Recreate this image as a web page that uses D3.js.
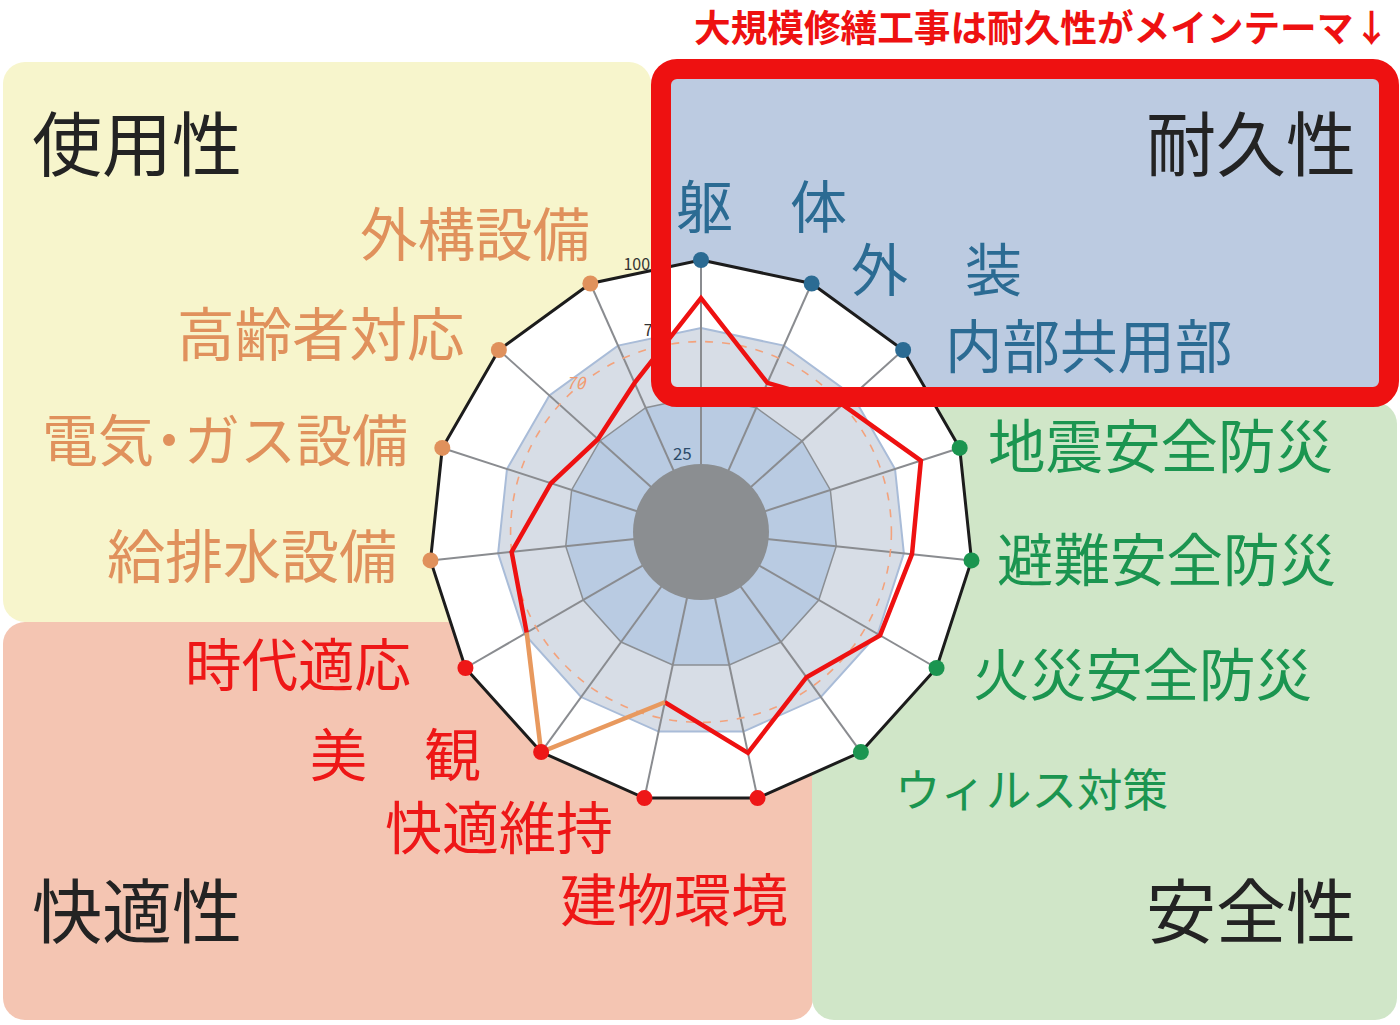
<!DOCTYPE html>
<html>
<head>
<meta charset="utf-8">
<script src="https://cdn.jsdelivr.net/npm/d3@7"></script>
<style>
  body { margin: 0; background: #fff; }
  svg text { font-family: "Noto Sans CJK JP", "Noto Sans", sans-serif; }
</style>
</head>
<body>
<svg id="chart" width="1400" height="1025"></svg>
<script>
// axes of the radar, clockwise from the top
var axisNames = ['躯　体', '外　装', '内部共用部', '地震安全防災', '避難安全防災', '火災安全防災',
  'ウィルス対策', '建物環境', '快適維持', '美　観', '時代適応', '給排水設備', '電気・ガス設備',
  '高齢者対応', '外構設備'];
var axisGroups = ['耐久性', '耐久性', '耐久性', '安全性', '安全性', '安全性', '安全性',
  '快適性', '快適性', '快適性', '快適性', '使用性', '使用性', '使用性', '使用性'];
var scores = [86, 60, 70, 85, 78, 76, 66, 83, 64, 100, 74, 70, 58, 51, 60];
var ringTicks = [25, 50, 75, 100];
var targetScore = 70;
var highlightAxis = '美　観';
var groupNames = ['使用性', '耐久性', '快適性', '安全性'];
var titleText = '大規模修繕工事は耐久性がメインテーマ↓';

var groupColor = d3.scaleOrdinal()
  .domain(groupNames)
  .range(['#e0915c', '#2b6b93', '#ee1717', '#1b9550']);

var svg = d3.select('#chart');
var cx = 701, cy = 532;

var rScale = d3.scaleLinear().domain([0, 100]).range([0, 272]);
var aScale = d3.scaleLinear().domain([0, axisNames.length]).range([0, 2 * Math.PI]);

function pt(i, v) {
  var a = aScale(i);
  return [cx + rScale(v) * Math.sin(a), cy - rScale(v) * Math.cos(a)];
}

// background panels
var panels = [
  {g: '使用性', x: 3, y: 62, w: 648, h: 560, fill: '#f7f5cc'},
  {g: '快適性', x: 3, y: 622, w: 810, h: 398, fill: '#f4c5b2'},
  {g: '安全性', x: 812, y: 402, w: 585, h: 618, fill: '#d0e6c8'},
  {g: '耐久性', x: 655, y: 62, w: 740, h: 340, fill: '#bccbe1'}
];
svg.selectAll('.panel')
  .data(panels)
  .enter().append('rect')
  .attr('class', 'panel')
  .attr('x', function(d) { return d.x; })
  .attr('y', function(d) { return d.y; })
  .attr('width', function(d) { return d.w; })
  .attr('height', function(d) { return d.h; })
  .attr('rx', 22)
  .style('fill', function(d) { return d.fill; });

// group titles
var groupPos = [
  {x: 32, y: 171, anchor: 'start'},
  {x: 1356, y: 171, anchor: 'end'},
  {x: 32, y: 938, anchor: 'start'},
  {x: 1356, y: 938, anchor: 'end'}
];
svg.selectAll('.group-title')
  .data(groupNames)
  .enter().append('text')
  .attr('class', 'group-title')
  .attr('x', function(d, i) { return groupPos[i].x; })
  .attr('y', function(d, i) { return groupPos[i].y; })
  .attr('text-anchor', function(d, i) { return groupPos[i].anchor; })
  .style('font-size', '70px')
  .style('fill', '#232323')
  .text(function(d) { return d; });

// radar
var chartG = svg.append('g');
var radial = d3.lineRadial()
  .angle(function(d, i) { return aScale(i); })
  .radius(function(d) { return rScale(d); })
  .curve(d3.curveLinearClosed);
function ring(v) { return axisNames.map(function() { return v; }); }

chartG.append('path')
  .attr('transform', 'translate(' + cx + ',' + cy + ')')
  .attr('d', radial(ring(100)))
  .style('fill', '#fff');
chartG.append('path')
  .attr('transform', 'translate(' + cx + ',' + cy + ')')
  .attr('d', radial(ring(75)))
  .style('fill', '#d7dde6')
  .style('stroke', '#a9bcd8')
  .style('stroke-width', 2);
chartG.append('path')
  .attr('transform', 'translate(' + cx + ',' + cy + ')')
  .attr('d', radial(ring(50)))
  .style('fill', '#b9cbe2')
  .style('stroke', '#8b8f94')
  .style('stroke-width', 1.5);

chartG.selectAll('.spoke')
  .data(axisNames)
  .enter().append('line')
  .attr('class', 'spoke')
  .attr('x1', function(d, i) { return pt(i, 20)[0]; })
  .attr('y1', function(d, i) { return pt(i, 20)[1]; })
  .attr('x2', function(d, i) { return pt(i, 100)[0]; })
  .attr('y2', function(d, i) { return pt(i, 100)[1]; })
  .style('stroke', '#8a8c90')
  .style('stroke-width', 2);

chartG.append('circle')
  .attr('cx', cx).attr('cy', cy)
  .attr('r', rScale(ringTicks[0]))
  .style('fill', '#8b8e91');

chartG.append('circle')
  .attr('cx', cx).attr('cy', cy)
  .attr('r', rScale(targetScore))
  .style('fill', 'none')
  .style('stroke', '#f3a27c')
  .style('stroke-width', 1.6)
  .style('stroke-dasharray', '8,9');

chartG.append('path')
  .attr('transform', 'translate(' + cx + ',' + cy + ')')
  .attr('d', radial(ring(100)))
  .style('fill', 'none')
  .style('stroke', '#1c1c1c')
  .style('stroke-width', 3);

// ring tick labels
function tickR(d) { return rScale(d) + (d === ringTicks[0] ? 12 : 4); }
chartG.selectAll('.tick-label')
  .data(ringTicks)
  .enter().append('text')
  .attr('class', 'tick-label')
  .attr('x', function(d) { return cx - tickR(d) * Math.sin(0.235); })
  .attr('y', function(d) { return cy - tickR(d) * Math.cos(0.235) + 6; })
  .attr('text-anchor', 'middle')
  .style('font-size', function(d) { return d === 25 ? '17px' : '16px'; })
  .style('fill', function(d) { return d === 25 ? '#2c4b6a' : '#333'; })
  .text(function(d) { return d; });

chartG.append('text')
  .attr('x', cx - (rScale(targetScore) + 4) * Math.sin(0.7))
  .attr('y', cy - (rScale(targetScore) + 4) * Math.cos(0.7) + 6)
  .attr('text-anchor', 'middle')
  .style('font-size', '17px')
  .style('font-style', 'italic')
  .style('fill', '#f09a70')
  .text(targetScore);

// score line: red, with the segments touching the highlighted axis in orange
var hi = axisNames.indexOf(highlightAxis);
var n = axisNames.length;
var pts = scores.map(function(v, i) { return pt(i, v); });
var redPts = [];
for (var k = 1; k < n; k++) redPts.push(pts[(hi + k) % n]);
chartG.append('path')
  .attr('d', d3.line()(redPts))
  .style('fill', 'none')
  .style('stroke', '#ee1111')
  .style('stroke-width', 4.5)
  .style('stroke-linejoin', 'miter');
chartG.append('path')
  .attr('d', d3.line()([pts[(hi + n - 1) % n], pts[hi], pts[(hi + 1) % n]]))
  .style('fill', 'none')
  .style('stroke', '#e8995e')
  .style('stroke-width', 4.5);

chartG.selectAll('.axis-dot')
  .data(axisNames)
  .enter().append('circle')
  .attr('class', 'axis-dot')
  .attr('cx', function(d, i) { return pt(i, 100)[0]; })
  .attr('cy', function(d, i) { return pt(i, 100)[1]; })
  .attr('r', 8)
  .style('fill', function(d, i) { return groupColor(axisGroups[i]); });

// axis labels (layout only); dx pulls the narrow middle dot together
var labelPos = [
  {x: 676, y: 228, s: 57}, {x: 851, y: 291, s: 57}, {x: 945, y: 368, s: 57.5},
  {x: 988, y: 468, s: 57.5}, {x: 997, y: 581, s: 56.5}, {x: 973, y: 696, s: 56.5},
  {x: 895, y: 807, s: 45.5}, {x: 560, y: 921, s: 57}, {x: 385, y: 849, s: 57},
  {x: 310, y: 776, s: 57}, {x: 185, y: 686, s: 56.5}, {x: 107, y: 578, s: 58},
  {x: 42, y: 461, s: 56, dx: '0 0 -13 -13'}, {x: 177, y: 356, s: 57.5}, {x: 360, y: 256, s: 57.5}
];
svg.selectAll('.axis-label')
  .data(axisNames)
  .enter().append('text')
  .attr('class', 'axis-label')
  .attr('x', function(d, i) { return labelPos[i].x; })
  .attr('y', function(d, i) { return labelPos[i].y; })
  .attr('dx', function(d, i) { return labelPos[i].dx || null; })
  .style('font-size', function(d, i) { return labelPos[i].s + 'px'; })
  .style('fill', function(d, i) { return groupColor(axisGroups[i]); })
  .text(function(d) { return d; });

// red frame on top of the durability panel
svg.append('rect')
  .attr('x', 661).attr('y', 69)
  .attr('width', 728).attr('height', 328)
  .attr('rx', 16)
  .style('fill', 'none')
  .style('stroke', '#ee1111')
  .style('stroke-width', 20);

svg.append('text')
  .attr('x', 694).attr('y', 42)
  .attr('textLength', 696)
  .attr('lengthAdjust', 'spacingAndGlyphs')
  .style('font-size', '37px')
  .style('font-weight', 700)
  .style('fill', '#ee1111')
  .text(titleText);
</script>
</body>
</html>
